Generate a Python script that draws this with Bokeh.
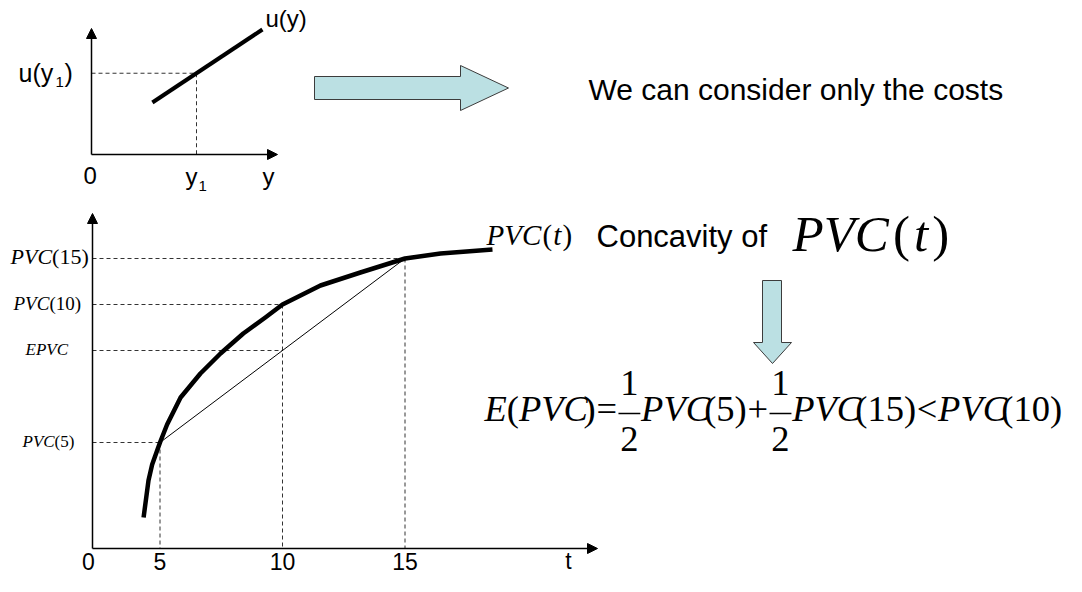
from bokeh.plotting import figure
from bokeh.models import Range1d, Arrow, NormalHead
from bokeh.core.properties import value
from bokeh.embed import file_html
from bokeh.resources import INLINE

# ---------------- data ----------------
# upper diagram: straight utility line u(y)
u_y_vals = [2.9, 8.14]
u_u_vals = [2.6, 6.25]
y1_val = 5.0

# lower diagram: concave PVC(t) curve
t_vals = [4.33, 4.53, 4.68, 5.0, 5.29, 5.84, 6.65, 7.47, 8.4, 9.3, 10.0, 11.55, 13.18, 15.0, 16.45, 18.57]
pvc_vals = [31, 68, 84, 106, 124, 151, 175, 195, 215, 231, 244, 263, 276, 290, 295, 299]
t_marks = [5.0, 10.0, 15.0]
t_tick_labels = ["0", "5", "10", "15"]

# ---------------- layout (pixel frame) ----------------
UX0, UY0, UXS, UYS = 91.0, 154.0, 21.0, 20.0
def ux(v): return UX0 + UXS * v
def uy(v): return UY0 - UYS * v
BAX, BAY = 92.0, 548.0
BX0, BXS = 37.0, 24.5
def bx(t): return BX0 + BXS * t
def by(v): return BAY - v

W, H = 1066, 576
p = figure(width=W, height=H, x_range=Range1d(0, W), y_range=Range1d(H, 0),
           output_backend="svg", toolbar_location=None, min_border=0,
           x_axis_location=None, y_axis_location=None)
p.grid.visible = False
p.outline_line_color = None
p.background_fill_color = "white"
p.border_fill_color = "white"

TXT_SHIFT = 0.4   # baseline correction (fraction of font size)

def put(x, yb, s, size, font="Liberation Sans", style="normal", align="left"):
    p.text(x=[x], y=[yb - TXT_SHIFT * size], text=[s], text_font=value(font),
           text_font_style=style, text_font_size=f"{size}px", text_align=align,
           text_baseline="alphabetic", text_color="black")

def axis_arrow(x0, y0, x1, y1):
    p.add_layout(Arrow(end=NormalHead(size=10, fill_color="black", line_color="black", line_width=1),
                       x_start=x0, y_start=y0, x_end=x1, y_end=y1,
                       line_color="black", line_width=1.5))

DASH = dict(line_color="#333333", line_width=1, line_dash="4 3")

# ================= upper diagram =================
axis_arrow(UX0, UY0, UX0, 28)
axis_arrow(UX0, UY0, 277, UY0)
u_at_y1 = u_u_vals[0] + (y1_val - u_y_vals[0]) * (u_u_vals[1] - u_u_vals[0]) / (u_y_vals[1] - u_y_vals[0])
p.line([UX0, ux(y1_val)], [uy(u_at_y1), uy(u_at_y1)], **DASH)
p.line([ux(y1_val), ux(y1_val)], [uy(u_at_y1), UY0], **DASH)
p.line([ux(v) for v in u_y_vals], [uy(v) for v in u_u_vals], line_color="black", line_width=4)

put(18, 82, "u(y", 25)
put(55, 87, "1", 15)
put(64, 82, ")", 25)
put(265, 28, "u(y)", 24)
put(83, 185, "0", 24)
put(185, 186, "y", 24)
put(198, 191, "1", 15)
put(262, 186, "y", 24)

# big right arrow
ARROW_FILL = "#bbe0e3"
ARROW_LINE = "#3c3c3c"
p.patch([314, 460, 460, 508, 460, 460, 314], [76, 76, 65, 87.5, 110, 99, 99],
        fill_color=ARROW_FILL, line_color=ARROW_LINE, line_width=1)
put(588, 101, "We can consider only the costs", 30)

# ================= lower diagram =================
axis_arrow(BAX, BAY, BAX, 213)
axis_arrow(BAX, BAY, 597, BAY)

pvc_at = dict(zip(t_vals, pvc_vals))
pvc5, pvc10, pvc15 = pvc_at[5.0], pvc_at[10.0], pvc_at[15.0]
epvc = 0.5 * pvc5 + 0.5 * pvc15

for t, v in [(15.0, pvc15), (10.0, pvc10), (10.0, epvc), (5.0, pvc5)]:
    p.line([BAX, bx(t)], [by(v), by(v)], **DASH)
for t, v in [(5.0, pvc5), (10.0, pvc10), (15.0, pvc15)]:
    p.line([bx(t), bx(t)], [by(v), BAY], **DASH)

p.line([bx(5.0), bx(15.0)], [by(pvc5), by(pvc15)], line_color="black", line_width=1)
p.line([bx(t) for t in t_vals], [by(v) for v in pvc_vals], line_color="black",
       line_width=4.5, line_join="round")

SER = "Liberation Serif"
def pvc_label(x, yc, arg, f):
    base = yc + 0.331 * f
    put(x, base, "PVC", f, SER, "italic")
    put(x + 1.889 * f, base, "(" + arg + ")", f, SER)
pvc_label(10, by(pvc15), "15", 22)
pvc_label(13, by(pvc10), "10", 19)
put(25, by(epvc) + 0.331 * 17, "EPVC", 17, SER, "italic")
pvc_label(22, by(pvc5), "5", 17)

# PVC(t) label at curve end
f = 29
base = 237 + 0.331 * f
put(486, base, "PVC", f, SER, "italic")
put(486 + (1.889 + 0.04) * f, base, "(", f, SER)
put(486 + (2.222 + 0.08) * f, base, "t", f, SER, "italic")
put(486 + (2.5 + 0.12) * f, base, ")", f, SER)

# tick labels (kept inside the canvas)
tick_x = [BAX - 4] + [bx(t) for t in t_marks]
for xx, lab in zip(tick_x, t_tick_labels):
    put(xx, 570, lab, 23, align="center")
put(568, 570, "t", 23, align="center")

# ================= right-hand text =================
put(596, 237 + 0.358 * 31, "Concavity of", 31)
f = 51
base = 237 + 0.331 * f
x0 = 792
put(x0, base, "PVC", f, SER, "italic")
put(x0 + (1.889 + 0.08) * f, base, "(", f, SER)
put(x0 + (2.222 + 0.16) * f, base, "t", f, SER, "italic")
put(x0 + (2.5 + 0.24) * f, base, ")", f, SER)

# down arrow
p.patch([762, 781, 781, 791, 772, 753, 762, 762], [280, 280, 342, 342, 363, 342, 342, 280],
        fill_color=ARROW_FILL, line_color=ARROW_LINE, line_width=1)

# equation  E(PVC) = 1/2 PVC(5) + 1/2 PVC(15) < PVC(10)
TR = {'(': .333, ')': .333, '0': .5, '1': .5, '2': .5, '5': .5, '=': .564, '+': .564, '<': .564}
TI = {'E': .611, 'P': .611, 'V': .611, 'C': .667, 't': .278}
eq = [("E", "i", 0.0), ("(", "r", 0.0), ("PVC", "i", 0.0), (")", "r", -0.12),
      ("=", "r", 0.02), ("FRAC", "r", 0.04), ("PVC", "i", 0.02), ("(5)", "r", -0.16),
      ("+", "r", 0.02), ("FRAC", "r", 0.04), ("PVC", "i", 0.02), ("(15)", "r", -0.16),
      ("<", "r", 0.02), ("PVC", "i", 0.02), ("(10)", "r", -0.16)]
EF = 36.5
EB = 423            # main baseline
BAR_Y = 413
x = 484
for s, st, kern in eq:
    x += kern * EF
    if s == "FRAC":
        wbar = 0.6 * EF
        p.line([x, x + wbar], [BAR_Y, BAR_Y], line_color="black", line_width=1.5)
        put(x + wbar / 2, 397, "1", EF, SER, align="center")
        put(x + wbar / 2, 453, "2", EF, SER, align="center")
        x += wbar
        continue
    put(x, EB, s, EF, SER, "italic" if st == "i" else "normal")
    table = TI if st == "i" else TR
    x += sum(table[c] for c in s) * EF

open("out.html", "w").write(file_html(p, INLINE))
